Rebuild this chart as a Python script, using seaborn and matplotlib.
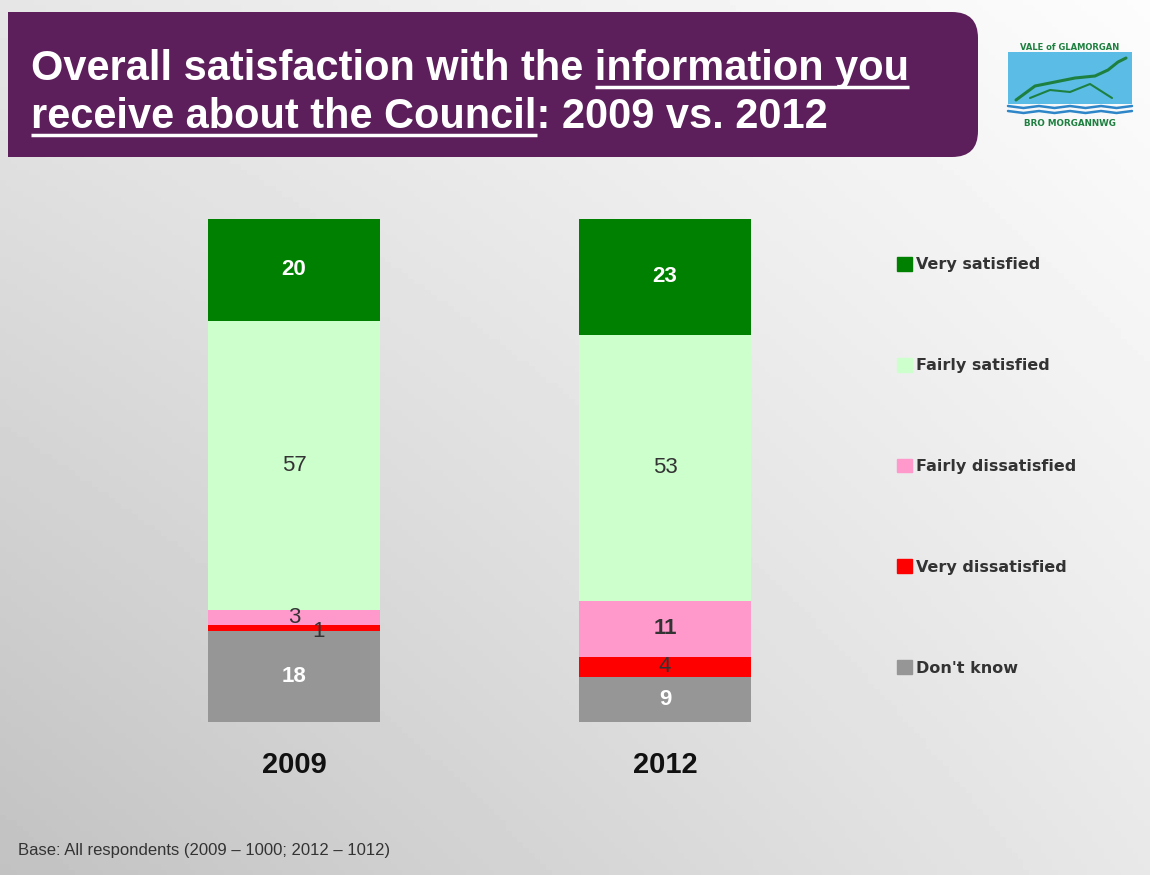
import numpy as np
import pandas as pd
import matplotlib.pyplot as plt
import matplotlib.patches as mpatches
from matplotlib.patches import FancyBboxPatch, Rectangle
import seaborn as sns

# Survey data (percent of respondents)
years = ["2009", "2012"]
categories = ["Very satisfied", "Fairly satisfied", "Fairly dissatisfied",
              "Very dissatisfied", "Don't know"]
very_satisfied = [20, 23]
fairly_satisfied = [57, 53]
fairly_dissatisfied = [3, 11]
very_dissatisfied = [1, 4]
dont_know = [18, 9]

colors = ["#008000", "#CCFFCC", "#FF99CC", "#FF0000", "#969696"]
label_colors = ["white", "#333333", "#333333", "#333333", "white"]
label_weights = ["bold", "normal", "normal", "normal", "bold"]

sns.set_style("white")
plt.rcParams['font.family'] = ['Liberation Sans', 'DejaVu Sans']

W, H = 1150, 875
fig = plt.figure(figsize=(W / 100, H / 100), dpi=100)


def fx(px):
    return px / W


def fy(py):
    return 1 - py / H


# Background gradient, axes in pixel coordinates
bg = fig.add_axes([0, 0, 1, 1], zorder=-10)
gx = np.linspace(0, 1, 200)
gy = np.linspace(0, 1, 160)[:, None]
top_row = 0.90 + 0.09 * gx
bottom_row = 0.76 + 0.15 * gx
grad = top_row * (1 - gy) + bottom_row * gy
bg.imshow(grad, cmap="gray", vmin=0, vmax=1, extent=[0, W, H, 0], aspect="auto")
bg.set_xlim(0, W)
bg.set_ylim(H, 0)
bg.axis("off")

# Purple title banner, square on the left and rounded on the right
purple = "#5C1F5B"
bg.add_patch(FancyBboxPatch((8, 12), 970, 145, boxstyle="round,pad=0,rounding_size=26",
                            facecolor=purple, edgecolor="none"))
bg.add_patch(Rectangle((8, 12), 100, 145, facecolor=purple, edgecolor="none"))

title_kw = dict(color="white", fontweight="bold", family="Liberation Sans",
                ha="left", va="baseline")
line1 = "Overall satisfaction with the information you"
line2 = "receive about the Council: 2009 vs. 2012"
renderer = fig.canvas.get_renderer()


def text_width(s, size):
    t = bg.text(0, 0, s, fontsize=size, **title_kw)
    w = t.get_window_extent(renderer).width
    t.remove()
    return w


title_size = 30 * 877 / text_width(line1, 30)
x0 = 31
bg.text(x0, 80, line1, fontsize=title_size, **title_kw)
bg.text(x0, 128, line2, fontsize=title_size, **title_kw)
w_full = text_width(line1, title_size)
w_part = text_width("information you", title_size)
bg.plot([x0 + w_full - w_part, x0 + w_full], [87, 87], color="white", lw=2.5,
        solid_capstyle="butt")
w_u2 = text_width("receive about the Council", title_size)
bg.plot([x0, x0 + w_u2], [135, 135], color="white", lw=2.5, solid_capstyle="butt")

# Simple council logo
logo_green = "#1E8040"
bg.add_patch(Rectangle((1008, 52), 124, 52, facecolor="#5BBDE6", edgecolor="none"))
bg.text(1070, 47, "VALE of GLAMORGAN", fontsize=6, color=logo_green,
        fontweight="bold", ha="center", va="center", family="DejaVu Sans")
bg.text(1070, 123, "BRO MORGANNWG", fontsize=6.3, color=logo_green,
        fontweight="bold", ha="center", va="center", family="DejaVu Sans")
bg.plot([1016, 1035, 1055, 1075, 1095, 1108, 1118, 1126],
        [100, 86, 82, 78, 76, 70, 62, 58], color=logo_green, lw=2.2)
bg.plot([1030, 1050, 1070, 1090, 1112],
        [98, 90, 92, 84, 98], color=logo_green, lw=1.5)
for wy in (106, 111):
    bg.plot(np.linspace(1008, 1132, 9), wy + np.array([0, 2, 0, 2, 0, 2, 0, 2, 0]),
            color="#2E86C8", lw=1.8)

# Stacked 100% bars
values = [very_satisfied, fairly_satisfied, fairly_dissatisfied, very_dissatisfied, dont_know]
df = pd.DataFrame(dict(zip(categories, values)), index=years)
share = df.div(df.sum(axis=1), axis=0) * 100
top = share[categories[::-1]].cumsum(axis=1)[categories]

unit = 665 - 294
ax = fig.add_axes([fx(294 - 0.6 * unit), fy(722), fx(2.2 * unit), (722 - 219) / H])
ax.set_facecolor("none")
for cat, col in zip(categories, colors):
    sns.barplot(x=years, y=top[cat].values, order=years, color=col, width=172 / unit,
                saturation=1, errorbar=None, linewidth=0, ax=ax)

offsets = {("2009", "Very dissatisfied"): (0.065, -0.6)}
for i, year in enumerate(years):
    for j, cat in enumerate(categories):
        center = top.loc[year, cat] - share.loc[year, cat] / 2
        dx, dy = offsets.get((year, cat), (0, 0))
        weight = "bold" if (year, cat) == ("2012", "Fairly dissatisfied") else label_weights[j]
        ax.text(i + dx, center + dy, str(df.loc[year, cat]), ha="center", va="center",
                fontsize=16, color=label_colors[j], fontweight=weight)

ax.set_xlim(-0.6, 1.6)
ax.set_ylim(0, 100)
ax.set_yticks([])
ax.set_xlabel("")
ax.set_ylabel("")
ax.tick_params(axis="x", length=0, pad=21)
for lab in ax.get_xticklabels():
    lab.set_fontsize(21)
    lab.set_fontweight("bold")
    lab.set_color("#111111")
sns.despine(ax=ax, left=True, bottom=True)

handles = [mpatches.Patch(color=c, label=l) for c, l in zip(colors, categories)]
fig.legend(handles=handles, loc="upper left", bbox_to_anchor=(fx(897), fy(257)),
           frameon=False, borderpad=0, borderaxespad=0, handlelength=0.95,
           handleheight=0.95, handletextpad=0.25, labelspacing=5.35,
           prop=dict(family="DejaVu Sans", weight="bold", size=11.5),
           labelcolor="#333333")

fig.text(fx(18), fy(851), "Base: All respondents (2009 \u2013 1000; 2012 \u2013 1012)",
         fontsize=12, color="#333333", ha="left", va="center")

fig.savefig("out.png", dpi=100)
